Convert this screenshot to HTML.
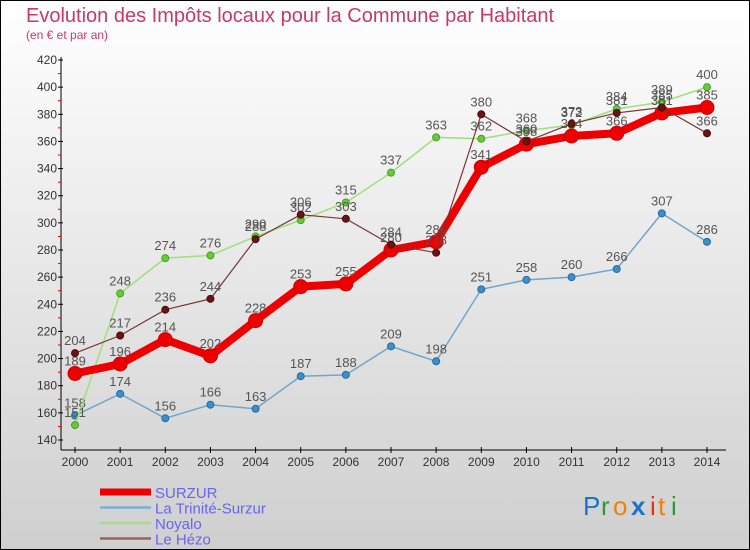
<!DOCTYPE html>
<html><head><meta charset="utf-8"><style>
body{margin:0;width:750px;height:550px;overflow:hidden;font-family:"Liberation Sans",sans-serif}
svg{display:block}
</style></head><body>
<svg id="c" width="750" height="550" xmlns="http://www.w3.org/2000/svg">
<defs><linearGradient id="bg" x1="0" y1="0" x2="0" y2="1"><stop offset="0" stop-color="#ffffff"/><stop offset="1" stop-color="#cfcfcf"/></linearGradient></defs>
<rect x="0.5" y="0.5" width="749" height="549" fill="url(#bg)" stroke="#000"/>
<text x="26" y="22" font-size="20" fill="#c8386a">Evolution des Impôts locaux pour la Commune par Habitant</text>
<text x="26" y="39" font-size="12" fill="#c8386a">(en € et par an)</text>
<g id="axes"></g><g id="series"></g><g id="legend"></g>
<g font-size="26">
<text x="583" y="515" fill="#1a73c8">P</text><text x="601" y="515" fill="#2a9a3a">r</text><text x="613" y="515" fill="#f08010">o</text><text x="631" y="515" fill="#1a73c8" font-weight="bold">x</text><text x="650" y="515" fill="#e83010">i</text><text x="658" y="515" fill="#f08010">t</text><text x="671" y="515" fill="#2a9a3a">i</text>
</g>
</svg>
<script>
const years=[2000,2001,2002,2003,2004,2005,2006,2007,2008,2009,2010,2011,2012,2013,2014];
const yTicks=[140,160,180,200,220,240,260,280,300,320,340,360,380,400,420];
const surzur=[189,196,214,202,228,253,255,280,286,341,358,364,366,381,385];
const trinite=[158,174,156,166,163,187,188,209,198,251,258,260,266,307,286];
const noyalo=[151,248,274,276,290,302,315,337,363,362,368,372,384,389,400];
const hezo=[204,217,236,244,288,306,303,284,278,380,360,373,381,385,366];
const NS="http://www.w3.org/2000/svg";
const X=i=>75+i*(707-75)/14;
const Y=v=>440-(v-140)*380/280;
function mk(t,a,p){const e=document.createElementNS(NS,t);for(const k in a)e.setAttribute(k,a[k]);p.appendChild(e);return e;}
const ax=document.getElementById('axes');
let l=mk('line',{x1:61,y1:57,x2:61,y2:450,stroke:'#000'},ax);


l=mk('line',{x1:61,y1:450,x2:726,y2:450,stroke:'#000'},ax);


yTicks.forEach((v,k)=>{
  mk('line',{x1:58,y1:Y(v),x2:63,y2:Y(v),stroke:'#000'},ax);
  if(k<yTicks.length-1) mk('line',{x1:58,y1:Y(v+10),x2:61,y2:Y(v+10),stroke:'#e00'},ax);
  const t=mk('text',{x:57,y:Y(v)+4,'font-size':12,fill:'#333','text-anchor':'end'},ax);t.textContent=v;
  
  
});
years.forEach((yr,i)=>{
  mk('line',{x1:X(i),y1:447,x2:X(i),y2:453,stroke:'#000'},ax);
  const t=mk('text',{x:X(i),y:466,'font-size':12,fill:'#333','text-anchor':'middle'},ax);t.textContent=yr;
  
  
});
const S=document.getElementById('series');
function draw(vals,name,col,w,r,dot,dotStroke){
  const g=mk('g',{},S);
  
  
  mk('polyline',{points:vals.map((v,i)=>X(i)+','+Y(v)).join(' '),fill:'none',stroke:col,'stroke-width':w,'stroke-linejoin':'round'},g);
  vals.forEach((v,i)=>{
    const c=mk('circle',{cx:X(i),cy:Y(v),r:r,fill:dot,stroke:dotStroke,'stroke-width':1},g);
    
    
    const t=mk('text',{x:X(i),y:Y(v)-8,'font-size':13,fill:'#555','text-anchor':'middle'},g);t.textContent=v;
    
    
  });
}
draw(trinite,'la-trinite-surzur','#6fa6cc',1.5,3.5,'#3a8fd0','#2a6a9a');
draw(noyalo,'noyalo','#9ee07a',1.5,3.5,'#66cc33','#4a9a2a');
draw(surzur,'surzur','#ee0000',8,7,'#ee0000','#cc0000');
draw(hezo,'le-hezo','#7a3535',1.2,3.5,'#6a1515','#4a0a0a');
const L=document.getElementById('legend');
[['SURZUR','#ee0000',7],['La Trinité-Surzur','#7ab0d4',2.5],['Noyalo','#a8dc88',2.5],['Le Hézo','#9a6060',2.5]].forEach((d,k)=>{
  const y=492+k*15.5;
  const g=mk('g',{},L);
  
  
  mk('line',{x1:100,y1:y,x2:151,y2:y,stroke:d[1],'stroke-width':d[2]},g);
  const t=mk('text',{x:155,y:y+6,'font-size':15,fill:'#6666ee'},g);t.textContent=d[0];
});
</script>
</body></html>
